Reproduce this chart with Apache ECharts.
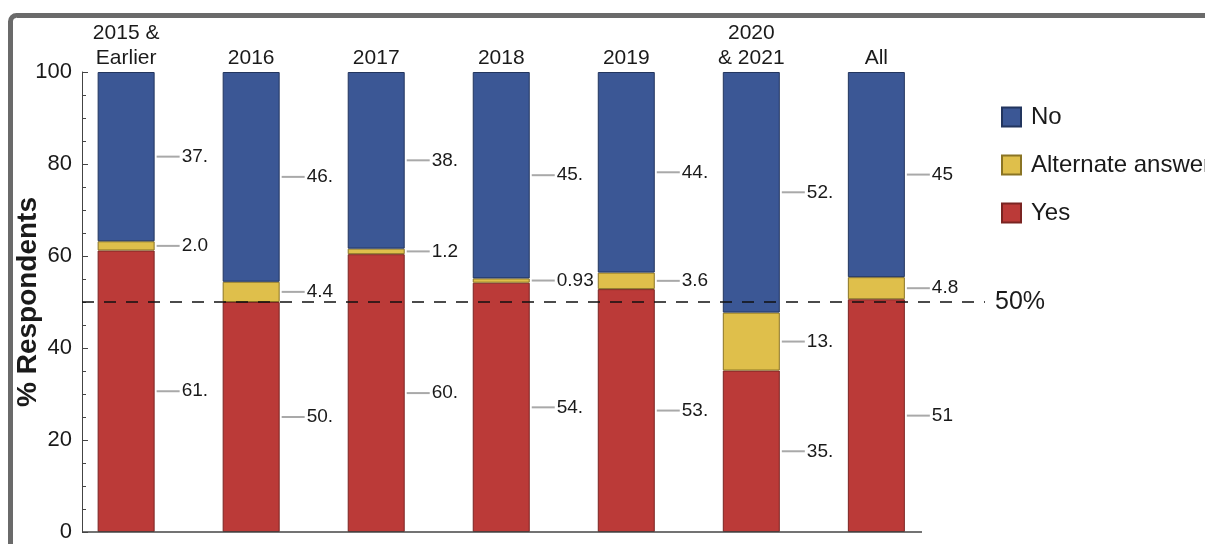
<!DOCTYPE html>
<html>
<head>
<meta charset="utf-8">
<script src="https://cdn.jsdelivr.net/npm/echarts@6/dist/echarts.min.js"></script>
<style>
html,body{margin:0;padding:0;background:#fff;}
#chart{width:1205px;height:544px;}
</style>
</head>
<body>
<div id="chart"></div>
<script>
const categories = ['2015 &\nEarlier', '2016', '2017', '2018', '2019', '2020\n& 2021', 'All'];
const yesValues = [61.2, 50.0, 60.4, 54.2, 52.8, 35.1, 50.6];
const altValues = [2.0, 4.4, 1.2, 0.93, 3.6, 12.6, 4.8];
const noValues = [36.8, 45.6, 38.4, 44.87, 43.6, 52.3, 44.6];
const yesLabels = ['61.', '50.', '60.', '54.', '53.', '35.', '51'];
const altLabels = ['2.0', '4.4', '1.2', '0.93', '3.6', '13.', '4.8'];
const noLabels = ['37.', '46.', '38.', '45.', '44.', '52.', '45'];
const yTicks = [0, 20, 40, 60, 80, 100];
const referenceLevel = 50;

const FONT = '"Liberation Sans", Arial, Helvetica, sans-serif';
const X_MIN = -0.353, X_MAX = 6.869, X_AXIS_END = 6.365;

// value first, category index second, so the value column is the stacked one
function pts(vals) { return vals.map((v, i) => [v, i]); }
const ENC = { x: 1, y: 0 };

function valueLabel(labels) {
  return {
    show: true,
    position: 'right',
    distance: 2,
    formatter: p => '{l| }{v|' + labels[p.dataIndex] + '}',
    rich: {
      l: { width: 23, height: 2, backgroundColor: '#a9a9a9' },
      v: { fontSize: 19, color: '#1a1a1a', fontFamily: FONT, padding: [0, 0, 0, 2] }
    }
  };
}

const chart = echarts.init(document.getElementById('chart'));
chart.setOption({
  animation: false,
  backgroundColor: '#fff',
  graphic: [{
    type: 'rect',
    shape: { x: 10.5, y: 15.5, width: 1400, height: 800, r: 6 },
    style: { fill: 'none', stroke: '#6a6a6a', lineWidth: 5 },
    z: -10
  }],
  grid: { left: 82, top: 72, width: 903, height: 460, containLabel: false, outerBoundsMode: 'none' },
  legend: {
    orient: 'vertical',
    left: 1001,
    top: 105,
    padding: 0,
    itemWidth: 19,
    itemHeight: 19,
    itemGap: 24,
    itemTextGap: 10,
    icon: 'rect',
    data: ['No', 'Alternate answer', 'Yes'],
    textStyle: { fontSize: 24, color: '#1a1a1a', fontFamily: FONT, padding: [0, 0, 0, 5] }
  },
  xAxis: {
    type: 'value',
    min: X_MIN,
    max: X_MAX,
    axisLine: { show: false },
    axisTick: { show: false },
    axisLabel: { show: false },
    splitLine: { show: false }
  },
  yAxis: {
    type: 'value',
    min: yTicks[0],
    max: yTicks[yTicks.length - 1],
    interval: yTicks[1] - yTicks[0],
    name: '% Respondents',
    nameLocation: 'middle',
    nameGap: 40,
    nameMoveOverlap: false,
    nameTextStyle: { fontSize: 28, fontWeight: 'bold', color: '#1a1a1a', fontFamily: FONT },
    axisLine: { show: true, onZero: false, lineStyle: { color: '#444', width: 1 } },
    axisTick: { show: true, inside: true, length: 6, lineStyle: { color: '#444' } },
    minorTick: { show: true, splitNumber: 4, length: 4, lineStyle: { color: '#444' } },
    axisLabel: { fontSize: 22, color: '#1a1a1a', margin: 10, fontFamily: FONT },
    splitLine: { show: false }
  },
  series: [
    {
      name: 'Yes', type: 'bar', stack: 's', barWidth: 57, encode: ENC,
      data: pts(yesValues),
      itemStyle: { color: '#bb3a38', borderColor: '#7a2422', borderWidth: 1 },
      label: valueLabel(yesLabels),
      markLine: {
        silent: true,
        symbol: 'none',
        data: [
          { yAxis: referenceLevel, lineStyle: { type: [12, 10], color: '#111', width: 1.5 },
            label: { show: true, position: 'end', distance: 10, formatter: '50%', fontSize: 25, color: '#1a1a1a', fontFamily: FONT } },
          [
            { coord: [X_MIN, 0], lineStyle: { type: 'solid', color: '#444', width: 1.5 }, label: { show: false } },
            { coord: [X_AXIS_END, 0] }
          ]
        ]
      }
    },
    {
      name: 'Alternate answer', type: 'bar', stack: 's', barWidth: 57, encode: ENC,
      data: pts(altValues),
      itemStyle: { color: '#dfbf4b', borderColor: '#8a7424', borderWidth: 1 },
      label: valueLabel(altLabels)
    },
    {
      name: 'No', type: 'bar', stack: 's', barWidth: 57, encode: ENC,
      data: pts(noValues),
      itemStyle: { color: '#3b5795', borderColor: '#22355e', borderWidth: 1 },
      label: valueLabel(noLabels)
    },
    {
      name: 'cat', type: 'bar', stack: 's', barWidth: 57, encode: ENC,
      data: pts(noValues.map(() => 0)),
      itemStyle: { color: 'transparent', borderWidth: 0 },
      label: {
        show: true, position: 'top', distance: 1,
        formatter: p => categories[p.dataIndex],
        fontSize: 21, lineHeight: 25, color: '#1a1a1a', fontFamily: FONT, align: 'center'
      },
      tooltip: { show: false }
    }
  ]
});
</script>
</body>
</html>
